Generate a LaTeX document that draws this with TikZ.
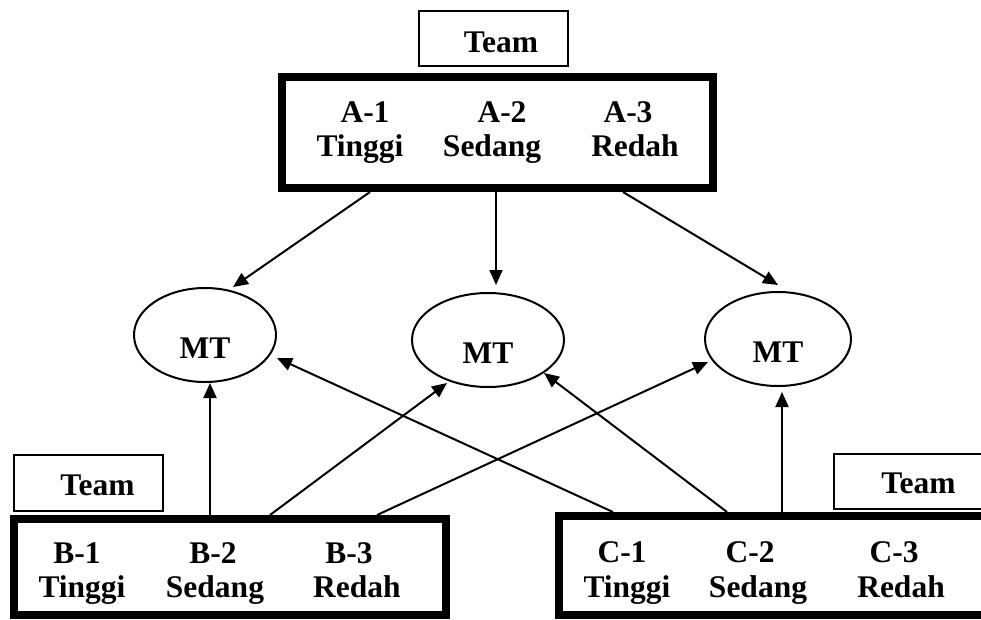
\documentclass[tikz,border=0pt]{standalone}
\usepackage{fontspec}
\setmainfont{Liberation Serif}
\usetikzlibrary{arrows.meta,shapes.geometric,calc}
\begin{document}
\begin{tikzpicture}[x=1pt,y=-1pt,
  txt/.style={font=\fontsize{31.5}{34}\selectfont\bfseries, inner sep=0pt, anchor=base},
  teambox/.style={draw, line width=2pt, inner sep=0pt},
  groupbox/.style={draw, line width=8pt, inner sep=0pt},
  mtnode/.style={ellipse, draw, line width=2pt, inner sep=0pt, minimum height=94pt,
    font=\fontsize{31.5}{34}\selectfont\bfseries, text height=46pt, text depth=0pt},
  arr/.style={-{Triangle[length=15pt,width=13pt]}, line width=2pt}]
\useasboundingbox (0,0) rectangle (981,619);

% top group
\node[teambox, minimum width=149pt, minimum height=55pt] (teamA) at (493.5,38.5) {};
\node[txt] (teamAt) at (501,52) {Team};
\node[groupbox, minimum width=431pt, minimum height=111pt] (A) at (497.5,132.5) {};
\node[txt] (a1n) at (365,122) {A-1};
\node[txt] (a1l) at (360,156) {Tinggi};
\node[txt] (a2n) at (502,122) {A-2};
\node[txt] (a2l) at (492,156) {Sedang};
\node[txt] (a3n) at (628,122) {A-3};
\node[txt] (a3l) at (635,156) {Redah};

% left bottom group
\node[teambox, minimum width=149pt, minimum height=56pt] (teamB) at (88.5,483) {};
\node[txt] (teamBt) at (97.5,495) {Team};
\node[groupbox, minimum width=432pt, minimum height=96pt] (B) at (230,567) {};
\node[txt] (b1n) at (77,563) {B-1};
\node[txt] (b1l) at (82,597) {Tinggi};
\node[txt] (b2n) at (213,563) {B-2};
\node[txt] (b2l) at (215,597) {Sedang};
\node[txt] (b3n) at (349,563) {B-3};
\node[txt] (b3l) at (357,597) {Redah};

% right bottom group
\node[teambox, minimum width=150pt, minimum height=55pt] (teamC) at (909,481.5) {};
\node[txt] (teamCt) at (918.5,493) {Team};
\node[groupbox, minimum width=432pt, minimum height=99pt] (C) at (775,565.5) {};
\node[txt] (c1n) at (622,562) {C-1};
\node[txt] (c1l) at (627,597) {Tinggi};
\node[txt] (c2n) at (750,562) {C-2};
\node[txt] (c2l) at (758,597) {Sedang};
\node[txt] (c3n) at (894,562) {C-3};
\node[txt] (c3l) at (901,597) {Redah};

% ellipses
\node[mtnode, minimum width=142pt] (mt1) at (205,335) {MT};
\node[mtnode, minimum width=152pt] (mt2) at (488,340) {MT};
\node[mtnode, minimum width=146pt] (mt3) at (778,339) {MT};

% connector ends on the boxes
\coordinate (a1) at (370,192);
\coordinate (a2) at (496,192);
\coordinate (a3) at (623,192);
\coordinate (b1) at (210,515);
\coordinate (b2) at (270,515);
\coordinate (b3) at (377,515);
\coordinate (c1) at (613,512);
\coordinate (c2) at (727,512);
\coordinate (c3) at (782,512);

% arrow tips near the ellipses
\coordinate (t1) at ($(mt1.center)+(28,-48)$);
\coordinate (t4) at ($(mt1.center)+(5,48)$);
\coordinate (t7) at ($(mt1.center)+(72,23)$);
\coordinate (t2) at ($(mt2.center)+(8,-55)$);
\coordinate (t5) at ($(mt2.center)+(-41,43)$);
\coordinate (t8) at ($(mt2.center)+(56,33)$);
\coordinate (t3) at ($(mt3.center)+(0,-54)$);
\coordinate (t6) at ($(mt3.center)+(-70,23)$);
\coordinate (t9) at ($(mt3.center)+(4,53)$);

\draw[arr] (a1) -- (t1);
\draw[arr] (a2) -- (t2);
\draw[arr] (a3) -- (t3);
\draw[arr] (b1) -- (t4);
\draw[arr] (b2) -- (t5);
\draw[arr] (b3) -- (t6);
\draw[arr] (c1) -- (t7);
\draw[arr] (c2) -- (t8);
\draw[arr] (c3) -- (t9);
\end{tikzpicture}
\end{document}
